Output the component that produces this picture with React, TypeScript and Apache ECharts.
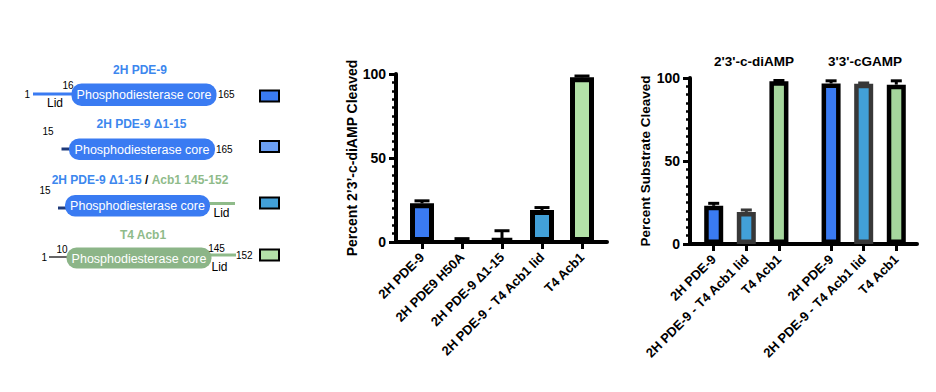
import React, { useEffect, useRef } from "react";
import * as echarts from "echarts";

const FONT = 'Arial, "Liberation Sans", Helvetica, sans-serif';

// ---- Data: middle chart ----
const MID_CATEGORIES = ["2H PDE-9", "2H PDE9 H50A", "2H PDE-9 Δ1-15", "2H PDE-9 - T4 Acb1 lid", "T4 Acb1"];
const MID_VALUES = [23, 0, 2, 19, 98];
const MID_ERRORS = [1.5, 2, 4.7, 1.5, 0.8];
const MID_COLORS = ["#3a7bf2", "#3a7bf2", "#6b9ff3", "#42a0d8", "#b3e2a8"];

// ---- Data: right chart ----
const RIGHT_GROUPS = ["2'3'-c-diAMP", "3'3'-cGAMP"];
const RIGHT_CATEGORIES = ["2H PDE-9", "2H PDE-9 - T4 Acb1 lid", "T4 Acb1"];
const DIAMP_VALUES = [23, 19.3, 98];
const DIAMP_ERRORS = [1.5, 1.2, 0.5];
const CGAMP_VALUES = [96.7, 96.5, 96];
const CGAMP_ERRORS = [1.6, 0.5, 2.3];
const RIGHT_COLORS = ["#3a7bf2", "#42a0d8", "#a6d69d"];
const RIGHT_BORDERS = ["#000000", "#383838", "#000000"];

// ---- Diagram legend colours ----
const LEGEND_COLORS = ["#3a7bf2", "#6b9ff3", "#42a0d8", "#b3e2a8"];
const BLUE_TEXT = "#3d87ee";
const GREEN_TEXT = "#8fbb8a";
const CORE_BLUE = "#3a7bf2";
const CORE_GREEN = "#8cb588";

const GROUP_STRIDE = 3.6;

function errRender(capW: number, colors: string[]) {
  return (params: any, api: any) => {
    const x = api.value(0);
    const v = api.value(1);
    const e = api.value(2);
    const top = api.coord([x, v + e]);
    const base = api.coord([x, v]);
    const c = colors[params.dataIndex] || "#000";
    return {
      type: "group",
      children: [
        { type: "line", shape: { x1: top[0], y1: base[1], x2: top[0], y2: top[1] }, style: { stroke: c, lineWidth: 3 } },
        { type: "line", shape: { x1: top[0] - capW / 2, y1: top[1], x2: top[0] + capW / 2, y2: top[1] }, style: { stroke: c, lineWidth: 3 } },
      ],
    };
  };
}

function txt(text: string, x: number, y: number, opts: any = {}) {
  const style: any = {
    text,
    fill: opts.fill || "#000",
    font: opts.font || `10px ${FONT}`,
    textAlign: opts.align || "center",
    textVerticalAlign: "middle",
  };
  if (opts.rich) style.rich = opts.rich;
  return { type: "text", x, y, style, z: 10 };
}

function seg(x1: number, y1: number, x2: number, y2: number, color: string, w = 3) {
  return { type: "line", shape: { x1, y1, x2, y2 }, style: { stroke: color, lineWidth: w } };
}

function core(x: number, y: number, w: number, h: number, color: string) {
  return [
    { type: "rect", shape: { x, y, width: w, height: h, r: 10 }, style: { fill: color } },
    txt("Phosphodiesterase core", x + w / 2, y + h / 2 + 0.5, { fill: "#fff", font: `12.5px ${FONT}` }),
  ];
}

function legendBox(y: number, color: string) {
  return { type: "rect", shape: { x: 260, y, width: 19, height: 11 }, style: { fill: color, stroke: "#000", lineWidth: 2 } };
}

function Diagram() {
  const ref = useRef<HTMLDivElement>(null);
  useEffect(() => {
    const chart = echarts.init(ref.current!, null, { renderer: "svg" });
    const graphic: any[] = [
      txt("2H PDE-9", 140, 70, { fill: BLUE_TEXT, font: `bold 12px ${FONT}` }),
      seg(33, 94, 72, 94, CORE_BLUE, 3),
      txt("1", 30, 94, { align: "right", font: `10px ${FONT}` }),
      txt("16", 68, 85, { font: `10px ${FONT}` }),
      ...core(71.5, 83.5, 145, 22.5, CORE_BLUE),
      txt("165", 218, 94.5, { align: "left", font: `10px ${FONT}` }),
      txt("Lid", 55, 103, { font: `12px ${FONT}` }),
      legendBox(90.5, LEGEND_COLORS[0]),

      txt("2H PDE-9 Δ1-15", 141.5, 123.5, { fill: BLUE_TEXT, font: `bold 12px ${FONT}` }),
      txt("15", 48, 131, { font: `10px ${FONT}` }),
      seg(61.5, 149, 70, 149, "#1e3a7a", 3),
      ...core(69, 138.5, 146, 21.5, CORE_BLUE),
      txt("165", 216, 149.5, { align: "left", font: `10px ${FONT}` }),
      legendBox(141, LEGEND_COLORS[1]),

      txt("{b|2H PDE-9 Δ1-15} {k|/} {g|Acb1 145-152}", 140, 179.5, {
        font: `bold 12px ${FONT}`,
        rich: {
          b: { fill: BLUE_TEXT, font: `bold 12px ${FONT}` },
          k: { fill: "#000", font: `bold 12px ${FONT}` },
          g: { fill: GREEN_TEXT, font: `bold 12px ${FONT}` },
        },
      }),
      txt("15", 45, 190, { font: `10px ${FONT}` }),
      seg(58, 208, 66, 208, "#1e3a7a", 3),
      seg(209, 203.5, 235, 203.5, GREEN_TEXT, 3),
      ...core(65, 195, 145, 21.5, CORE_BLUE),
      txt("Lid", 221.5, 213, { font: `12px ${FONT}` }),
      legendBox(197.5, LEGEND_COLORS[2]),

      txt("T4 Acb1", 143, 234.5, { fill: GREEN_TEXT, font: `bold 12px ${FONT}` }),
      seg(49, 257, 67, 257, "#333", 1.5),
      txt("1", 47, 257.5, { align: "right", font: `10px ${FONT}` }),
      txt("10", 62, 249, { font: `10px ${FONT}` }),
      seg(210, 255, 236, 255, GREEN_TEXT, 3),
      ...core(66.5, 247.5, 145, 21, CORE_GREEN),
      txt("145", 216.5, 248.5, { font: `10px ${FONT}` }),
      txt("152", 236, 255, { align: "left", font: `10px ${FONT}` }),
      txt("Lid", 219.5, 266.5, { font: `12px ${FONT}` }),
      legendBox(249.5, LEGEND_COLORS[3]),

      txt(RIGHT_GROUPS[0], 754, 61, { font: `bold 13.5px ${FONT}` }),
      txt(RIGHT_GROUPS[1], 865, 61, { font: `bold 13.5px ${FONT}` }),
    ];
    chart.setOption({ animation: false, graphic });
    return () => chart.dispose();
  }, []);
  return <div ref={ref} style={{ position: "absolute", left: 0, top: 0, width: 936, height: 392 }} />;
}

function Bars() {
  const ref = useRef<HTMLDivElement>(null);
  useEffect(() => {
    const chart = echarts.init(ref.current!, null, { renderer: "svg" });

    const midPos = MID_CATEGORIES.map((_, i) => i);
    const rightPos: number[] = [];
    const rightNames: string[] = [];
    RIGHT_GROUPS.forEach((_, g) =>
      RIGHT_CATEGORIES.forEach((c, i) => {
        rightPos.push(g * GROUP_STRIDE + i);
        rightNames.push(c);
      })
    );
    const rightVals = [...DIAMP_VALUES, ...CGAMP_VALUES];
    const rightErrs = [...DIAMP_ERRORS, ...CGAMP_ERRORS];
    const rightCols = [...RIGHT_COLORS, ...RIGHT_COLORS];
    const rightBorders = [...RIGHT_BORDERS, ...RIGHT_BORDERS];

    const findName = (pos: number[], names: string[]) => (v: number) => {
      const idx = pos.findIndex((p) => Math.abs(p - v) < 1e-6);
      return idx >= 0 ? names[idx] : "";
    };

    const yAxisBase = (gridIndex: number, name: string, nameGap: number, nameSize: number) => ({
      type: "value",
      gridIndex,
      min: 0,
      max: 100,
      interval: 50,
      name,
      nameLocation: "middle",
      nameGap,
      nameTextStyle: { fontSize: nameSize, fontWeight: "bold", color: "#000", fontFamily: FONT },
      axisLine: { show: true, onZero: false, lineStyle: { color: "#000", width: 4 } },
      axisTick: { show: true, length: 7, lineStyle: { color: "#000", width: 3 } },
      minorTick: { show: true, splitNumber: 10, length: 4, lineStyle: { color: "#000", width: 2.5 } },
      splitLine: { show: false },
      axisLabel: { fontSize: 14, fontWeight: "bold", color: "#000", margin: 10, fontFamily: FONT },
    });

    const xAxisBase = (gridIndex: number, min: number, max: number, pos: number[], names: string[]) => ({
      type: "value",
      gridIndex,
      min,
      max,
      axisLine: { show: true, onZero: false, lineStyle: { color: "#000", width: 4 } },
      axisTick: { show: true, length: 7, lineStyle: { color: "#000", width: 3 }, customValues: pos },
      splitLine: { show: false },
      axisLabel: {
        customValues: pos,
        rotate: 45,
        fontSize: 13,
        fontWeight: "bold",
        color: "#000",
        margin: 13,
        fontFamily: FONT,
        formatter: findName(pos, names),
      },
    });

    chart.setOption({
      animation: false,
      grid: [
        { left: 396, top: 74, width: 211, height: 168 },
        { left: 690, top: 78, width: 227, height: 166 },
      ],
      xAxis: [
        xAxisBase(0, -0.65, 4.625, midPos, MID_CATEGORIES),
        xAxisBase(1, -0.727, 6.235, rightPos, rightNames),
      ],
      yAxis: [
        yAxisBase(0, "Percent 2’3’-c-diAMP Cleaved", 37, 14),
        yAxisBase(1, "Percent Substrate Cleaved", 36, 13.5),
      ],
      series: [
        {
          type: "bar",
          xAxisIndex: 0,
          yAxisIndex: 0,
          barWidth: 24,
          data: MID_VALUES.map((v, i) => ({
            value: [midPos[i], v],
            itemStyle: { color: MID_COLORS[i], borderColor: "#000", borderWidth: v > 0 ? 5 : 0 },
          })),
        },
        {
          type: "custom",
          xAxisIndex: 0,
          yAxisIndex: 0,
          renderItem: errRender(15, MID_CATEGORIES.map(() => "#000")),
          data: MID_VALUES.map((v, i) => [midPos[i], v, MID_ERRORS[i]]),
          encode: { x: 0, y: 1 },
        },
        {
          type: "bar",
          xAxisIndex: 1,
          yAxisIndex: 1,
          barWidth: 19,
          data: rightVals.map((v, i) => ({
            value: [rightPos[i], v],
            itemStyle: { color: rightCols[i], borderColor: rightBorders[i], borderWidth: 4.5 },
          })),
        },
        {
          type: "custom",
          xAxisIndex: 1,
          yAxisIndex: 1,
          renderItem: errRender(11, rightBorders),
          data: rightVals.map((v, i) => [rightPos[i], v, rightErrs[i]]),
          encode: { x: 0, y: 1 },
        },
      ],
    });

    return () => chart.dispose();
  }, []);
  return <div ref={ref} style={{ position: "absolute", left: 0, top: 0, width: 936, height: 392 }} />;
}

export default function App() {
  useEffect(() => {
    document.body.style.margin = "0";
  }, []);
  return (
    <div style={{ position: "absolute", left: 0, top: 0, width: 936, height: 392, background: "#fff" }}>
      <Diagram />
      <Bars />
    </div>
  );
}
